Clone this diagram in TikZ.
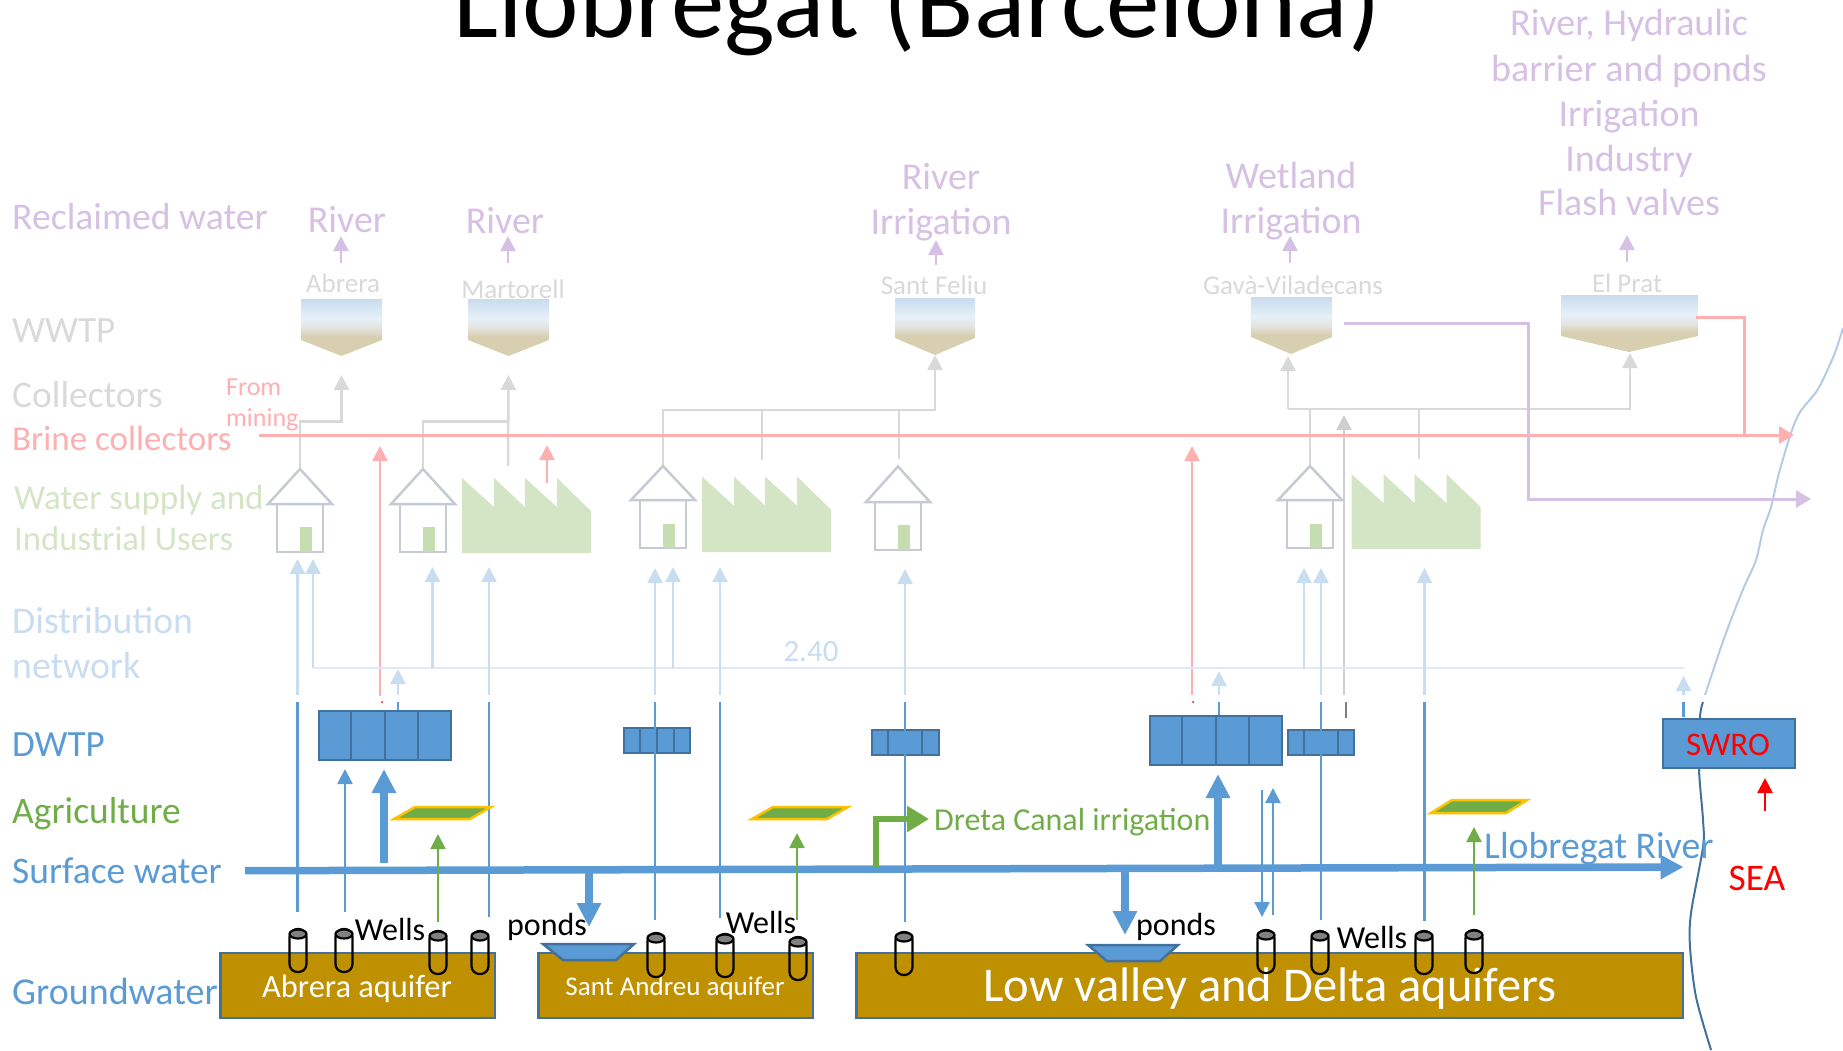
\documentclass[tikz,border=0pt]{standalone}
\usepackage{fontspec}
\setmainfont{Carlito}
\usetikzlibrary{arrows.meta,calc}
\definecolor{purpleLt}{HTML}{D6C1E4}
\definecolor{greyLt}{HTML}{D9D9D9}
\definecolor{greyMd}{HTML}{D0CECE}
\definecolor{pinkLt}{HTML}{FFAFAF}
\definecolor{greenLt}{HTML}{D4E5C6}
\definecolor{blueLt}{HTML}{C9DDF0}
\definecolor{blueVl}{HTML}{DEEAF6}
\definecolor{blueMd}{HTML}{5B9BD5}
\definecolor{blueDk}{HTML}{41719C}
\definecolor{coastLt}{HTML}{B4CCE3}
\definecolor{greenMd}{HTML}{70AD47}
\definecolor{aquifer}{HTML}{BF9000}
\definecolor{fieldEdge}{HTML}{FFC000}
\definecolor{houseLine}{HTML}{C5CAD3}
\definecolor{houseWin}{HTML}{C5DDB0}
\definecolor{tankTan}{HTML}{D8CEB0}
\definecolor{tankGrey}{HTML}{E4E4E0}
\definecolor{tankPale}{HTML}{E7EFF8}
\definecolor{tankBlue}{HTML}{C8DCEF}
\pgfdeclareverticalshading{tankshade}{100bp}{color(0bp)=(tankTan); color(25bp)=(tankTan);
    color(42bp)=(tankTan); color(50bp)=(tankGrey); color(58bp)=(tankPale); color(75bp)=(tankBlue);
    color(100bp)=(tankBlue)}
\tikzset{
    txt/.style={anchor=base, inner sep=0pt, font=\fontsize{#1}{#1}\selectfont},
    txt/.default=38,
    tipS/.style={-{Triangle[length=15pt,width=15pt]}},
    tipL/.style={-{Triangle[length=24pt,width=23pt]}},
    plant/.style={draw=blueDk, fill=blueMd, line width=2pt, inner sep=0pt},
    aquiferbox/.style={draw=blueDk, fill=aquifer, line width=2.5pt, inner sep=0pt,
        minimum height=65pt},
    pond/.style={draw=blueDk, fill=blueMd, line width=2.5pt},
    wellline/.style={draw=black, line width=2.2pt},
}
\begin{document}
\begin{tikzpicture}[x=1pt, y=-1pt]
    \useasboundingbox (0,0) rectangle (1843,1050);
    \clip (0,0) rectangle (1843,1050);

    \node[txt=107] (title) at (917,37) {Llobregat (Barcelona)};

    \foreach \n/\x/\y/\z/\c/\t in {rec/12/229/37.7/purpleLt/Reclaimed water, wwtp/12/342/37/greyLt/WWTP,
        col/12/407/37.5/greyLt/Collectors, bri/12/450/35/pinkLt/Brine collectors,
        wat/14/509/35/greenLt/Water supply and, ind/14/550/34.7/greenLt/Industrial Users,
        dis/12/633/37.7/blueLt/Distribution, net/12/678/37.8/blueLt/network, dwt/12/756/37/blueMd/DWTP,
        agr/12/823/37.5/greenMd/Agriculture, sur/12/883/37.5/blueMd/Surface water,
        gro/12/1004/38/blueMd/Groundwater} {
            \node[txt=\z, anchor=base west, text=\c] (lab\n) at (\x,\y) {\t};
        }

    \foreach \n/\x/\y/\t in {a/347/232.5/River, b/505/233.5/River, c/941/189.6/River,
        d/941/234/Irrigation, e/1291/188.6/Wetland, f/1291/233.5/Irrigation,
        g/1629/35.5/{River, Hydraulic}, h/1629/81/barrier and ponds, i/1629/126/Irrigation,
        j/1629/171/Industry, k/1629/215/Flash valves} {
            \node[txt, text=purpleLt] (use\n) at (\x,\y) {\t};
        }

    \foreach \n/\x/\y/\t in {a/343/292/Abrera, b/513/298/Martorell, c/934/294/Sant Feliu,
        d/1293/294/Gavà-Viladecans, e/1627/292/El Prat} {
            \node[txt=27, text=greyLt] (name\n) at (\x,\y) {\t};
        }

    \foreach \n/\l/\r/\t/\s/\b/\m in {a/301/382/299/340/356/341.5, b/468/549/299/340/356/508.5,
        c/895/975/298/338/355/935, d/1251/1332/297/337/354/1291,
        e/1561/1698/295/336/352/1629} {
            \shade[shading=tankshade] (\l,\t) -- (\r,\t) -- (\r,\s) -- (\m,\b) -- (\l,\s) -- cycle;
            \coordinate (tip\n) at (\m,\b);
        }

    \foreach \n/\x/\a/\b in {a/341/263/236, b/508/263/236, c/936/265/240, d/1290/263/236,
        e/1627/262/235} {
            \coordinate (puA\n) at (\x,\a);
            \coordinate (puB\n) at (\x,\b);
            \draw[tipS, draw=purpleLt, line width=2.5pt] (puA\n) -- (puB\n);
        }

    \coordinate (coastA) at (1843,328);
    \coordinate (coastB) at (1705,695);
    \draw[draw=coastLt, line width=2pt] plot[smooth] coordinates {(coastA) (1834,355)
        (1818,389) (1800,412) (1791,433) (1779,473) (1771,507) (1763,530) (1756,560)
        (1744,587) (1732,617) (1721,647) (coastB)};
    \draw[draw=blueDk, line width=2pt] plot[smooth] coordinates {(1703,702) (1700,717)
        (1699,769) (1703,820) (1703,847) (1691,913) (1690,947) (1696,997) (1711,1050)};

    \coordinate (colA) at (300,469);
    \coordinate (colB) at (423,469);
    \coordinate (colC) at (508,466);
    \coordinate (colD) at (663,466);
    \coordinate (colE) at (1310,466);
    \coordinate (colF) at (1288,409);
    \draw[tipS, draw=greyLt, line width=2.5pt] (colA) |- (341.5,421.5) -- ($(tipa)+(0,19)$);
    \draw[draw=greyLt, line width=2.5pt] (colB) |- (508,421.5);
    \draw[tipS, draw=greyLt, line width=2.5pt] (colC) -- ($(tipb)+(0,19)$);
    \draw[tipS, draw=greyLt, line width=2.5pt] (colD) |- (935,410) -- (tipc);
    \foreach \n/\x/\a/\b in {a/762/460/410, b/899/459/410, c/1419/459/409} {
            \coordinate (brA\n) at (\x,\a);
            \coordinate (brB\n) at (\x,\b);
            \draw[draw=greyLt, line width=2pt] (brA\n) -- (brB\n);
        }
    \draw[draw=greyLt, line width=2.5pt] (colE) -- (1310,409);
    \draw[tipS, draw=greyLt, line width=2.5pt] (colF) -- (1288,356);
    \draw[tipS, draw=greyLt, line width=2.5pt] (colF) -- (1630,409) -- (1630,353);
    \coordinate (colG) at (1344,695);
    \coordinate (colH) at (1344,415);
    \draw[tipS, draw=greyMd, line width=2pt] (colG) -- (colH);
    \coordinate (colI) at (1346,702);
    \coordinate (colJ) at (1346,718);
    \draw[draw=gray, line width=2pt] (colI) -- (colJ);

    \coordinate (briA) at (259,435);
    \coordinate (briB) at (1794,435);
    \coordinate (briC) at (1696,317);
    \draw[-{Triangle[length=15pt,width=17pt]}, draw=pinkLt, line width=3pt] (briA) -- (briB);
    \draw[draw=pinkLt, line width=3pt] (briC) -| (1744,435);
    \foreach \n/\x/\a/\b in {a/380/696/446, b/547/483/445, c/1192/695/446} {
            \coordinate (pkA\n) at (\x,\a);
            \coordinate (pkB\n) at (\x,\b);
            \draw[tipS, draw=pinkLt, line width=2.2pt] (pkA\n) -- (pkB\n);
        }
    \fill[red] (382,702) circle (1pt);
    \fill[red] (1193,702) circle (1pt);

    \coordinate (purA) at (1344,323.5);
    \coordinate (purB) at (1811,499);
    \draw[-{Triangle[length=15pt,width=17pt]}, draw=purpleLt, line width=3pt] (purA) -|
        (1528,499) -- (purB);

    \foreach \n/\x/\y/\s/\e in {a/300/469/504/552, b/423/469/504/552, c/663/466/500/548,
        d/898/466.5/502/550, e/1310/466/500/548} {
            \draw[draw=houseLine, fill=white, line width=2.5pt] (\x-23,\s) rectangle (\x+23,\e);
            \fill[houseWin] (\x,\y+58) rectangle (\x+12,\e);
            \draw[draw=houseLine, fill=white, line width=2.5pt] (\x,\y) -- (\x+32,\s) -- (\x-32,\s) -- cycle;
            \coordinate (house\n) at (\x,\y);
        }

    \foreach \n/\x/\t/\e in {a/462/478/553, b/702/476.6/552, c/1351.5/474/549} {
            \fill[greenLt] (\x,\e) -- (\x,\t) -- (\x+32,\t+29) -- (\x+32,\t) -- (\x+63,\t+29) --
                (\x+63,\t) -- (\x+95,\t+29) -- (\x+95,\t) -- (\x+129,\t+33) -- (\x+129,\e) -- cycle;
            \coordinate (fact\n) at (\x,\e);
        }

    \coordinate (netA) at (313,668);
    \coordinate (netB) at (1683.5,668);
    \draw[draw=blueVl, line width=2.5pt] (netA) -- (netB);
    \node[txt=31, text=blueLt] (netval) at (811,661) {2.40};
    \foreach \n/\x/\a/\b in {a/297.5/695/559, b/313/668/559, c/432.5/668/567, d/489/695/567,
        e/655/695/568, f/673/668/567, g/720/695/567, h/905/695/569, i/1304/668/568,
        j/1321/695/568, k/1424.5/695/568, l/398/695/669, m/1219/695/671, n/1683.5/695/676} {
            \coordinate (diA\n) at (\x,\a);
            \coordinate (diB\n) at (\x,\b);
            \draw[tipS, draw=blueLt, line width=2.5pt] (diA\n) -- (diB\n);
        }

    \node[plant, minimum width=132.5pt, minimum height=49pt] (dwtpA) at (384.75,735.5) {};
    \node[plant, minimum width=65.5pt, minimum height=25pt] (dwtpB) at (656.75,740.5) {};
    \node[plant, minimum width=66.5pt, minimum height=25pt] (dwtpC) at (905.25,742.5) {};
    \node[plant, minimum width=132pt, minimum height=49pt] (dwtpD) at (1215.5,740.5) {};
    \node[plant, minimum width=66pt, minimum height=25pt] (dwtpE) at (1321,742.5) {};
    \foreach \p in {dwtpA,dwtpB,dwtpC,dwtpD,dwtpE} {
            \foreach \f in {0.25,0.5,0.75} {
                    \draw[draw=blueDk, line width=2pt] ($(\p.north west)!\f!(\p.north east)$) --
                        ($(\p.south west)!\f!(\p.south east)$);
                }
        }
    \node[plant, minimum width=131.5pt, minimum height=49pt] (swro) at (1728.75,743.5) {};
    \node[txt=33, text=red] (swrotxt) at (1728,755) {SWRO};

    \foreach \n/\x/\a/\b in {a/297.5/702/912, b/489/702/917, c/398/702/710, d/655/702/920,
        e/720/702/918, f/905/702/922, g/1219/702/715, h/1321/702/920, i/1424.5/702/921,
        j/1683.5/702/717} {
            \coordinate (drA\n) at (\x,\a);
            \coordinate (drB\n) at (\x,\b);
            \draw[draw=blueMd, line width=2.5pt] (drA\n) -- (drB\n);
        }
    \foreach \n/\x/\a/\b in {a/345/912/769, b/1273/915/788, c/1262/790/917} {
            \coordinate (inA\n) at (\x,\a);
            \coordinate (inB\n) at (\x,\b);
            \draw[tipS, draw=blueMd, line width=2.5pt] (inA\n) -- (inB\n);
        }

    \coordinate (riverA) at (245,870.7);
    \coordinate (riverB) at (1683.5,867);
    \draw[-{Triangle[length=23pt,width=23pt]}, draw=blueMd, line width=7.5pt] (riverA) -- (riverB);
    \foreach \n/\x/\a/\b in {a/384/863/769, b/589/870/927, c/1125/868/935, d/1218/866/774} {
            \coordinate (thA\n) at (\x,\a);
            \coordinate (thB\n) at (\x,\b);
            \draw[tipL, draw=blueMd, line width=8pt] (thA\n) -- (thB\n);
        }

    \foreach \n/\a/\b/\c/\d/\y/\e in {a/394/415/491/470/807/819, b/752/773/848/827/807/819,
        c/1431/1452/1527/1506/800/813} {
            \draw[draw=fieldEdge, fill=greenMd, line width=2.5pt] (\a,\e) -- (\b,\y) -- (\c,\y) -- (\d,\e) -- cycle;
            \coordinate (field\n) at (\b,\y);
        }
    \foreach \n/\x/\a/\b in {a/438/922/834, b/797/920/833, c/1474/915/827} {
            \coordinate (grA\n) at (\x,\a);
            \coordinate (grB\n) at (\x,\b);
            \draw[tipS, draw=greenMd, line width=2.2pt] (grA\n) -- (grB\n);
        }
    \coordinate (canalA) at (876,867);
    \coordinate (canalB) at (929,819);
    \draw[-{Triangle[length=22pt,width=25pt]}, draw=greenMd, line width=6.5pt] (canalA) |- (canalB);
    \node[txt=32, anchor=base west, text=greenMd] (canal) at (934,830) {Dreta Canal irrigation};

    \node[aquiferbox, minimum width=274.5pt] (aqA) at (357.75,985.5) {};
    \node[aquiferbox, minimum width=274.5pt] (aqB) at (675.75,985.5) {};
    \node[aquiferbox, minimum width=826.6pt] (aqC) at (1269.7,985.5) {};
    \node[txt=32.4, text=white] (aqAtxt) at (357,997) {Abrera aquifer};
    \node[txt=27, text=white] (aqBtxt) at (675,995) {Sant Andreu aquifer};
    \node[txt=48.5, text=white] (aqCtxt) at (1270,1001) {Low valley and Delta aquifers};

    \foreach \a/\b/\c/\d/\t/\e in {543/563/616/634/944/960, 1088/1107/1160/1178/945/961} {
            \draw[pond] (\a,\t) -- (\b,\e) -- (\c,\e) -- (\d,\t) -- cycle;
        }

    \foreach \x/\t/\e in {298/929/972, 344/929/972, 438/931/974, 480/931/974, 656/933/977,
        725/934/977, 798/937/980, 904/932/975, 1266/930/973, 1320/931/974, 1424/931/974,
        1474/930/973} {
            \draw[wellline, rounded corners=8pt] (\x-8.5,\t) rectangle (\x+8.5,\e);
            \draw[wellline, fill=gray] (\x,\t+5) ellipse (8.5pt and 4.5pt);
        }

    \foreach \n/\x/\y/\t in {a/390/940/Wells, b/547/935/ponds, c/761/933/Wells, d/1176/935/ponds,
        e/1372/948/Wells} {
            \node[txt=32] (note\n) at (\x,\y) {\t};
        }

    \node[txt=26, anchor=base west, text=pinkLt] (from) at (226,395.5) {From};
    \node[txt=26, anchor=base west, text=pinkLt] (mining) at (226,426.5) {mining};
    \node[txt=37.7, anchor=base west, text=blueMd] (river) at (1484,858) {Llobregat River};
    \node[txt=37.5, text=red] (sea) at (1757,890) {SEA};
    \coordinate (seaA) at (1765,811);
    \coordinate (seaB) at (1765,778);
    \draw[tipS, draw=red, line width=2.5pt] (seaA) -- (seaB);
\end{tikzpicture}
\end{document}
